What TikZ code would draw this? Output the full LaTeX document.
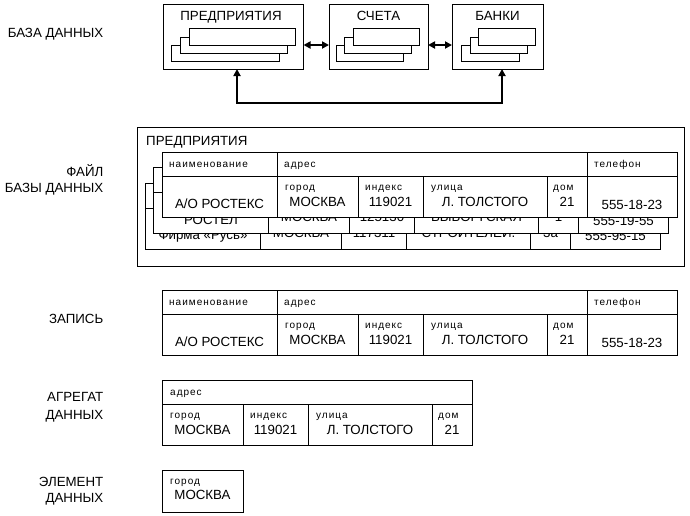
\documentclass[tikz,border=0pt]{standalone}
\usepackage{fontspec}
\setmainfont{Liberation Sans}
\newfontfamily\lblfont[LetterSpace=10]{Liberation Sans}
\usetikzlibrary{arrows.meta}
\newcommand{\bigf}{\fontsize{13.3}{16}\selectfont}
\newcommand{\smf}{\lblfont\fontsize{10}{12}\selectfont}
\tikzset{
  frame/.style={draw=black, line width=1pt},
  big/.style={font=\bigf, inner sep=0pt, anchor=base},
  lbl/.style={font=\smf, inner sep=0pt, anchor=base west},
  side/.style={font=\bigf, inner sep=0pt, anchor=base east},
  conn/.style={line width=2pt, {Triangle[length=7pt,width=7pt]}-{Triangle[length=7pt,width=7pt]}},
  topbox/.style={frame, inner sep=0pt, outer sep=0pt, minimum height=65pt, anchor=north west},
}
\newcommand{\recframe}{%
  \filldraw[frame, fill=white] (0,0) rectangle (515,65.5);
  \draw[frame] (0,24.5) -- (515,24.5) (115,0) -- (115,65.5)
    (196,24.5) -- (196,65.5) (261,24.5) -- (261,65.5)
    (385,24.5) -- (385,65.5) (425,0) -- (425,65.5);
}
\newcommand{\recvals}[7]{%
  \node[big] (#1n) at (57.5,56.25) {#2};
  \node[big] (#1c) at (155.5,54) {#3};
  \node[big] (#1i) at (228.5,54) {#4};
  \node[big] (#1s) at (323,54) {#5};
  \node[big] (#1h) at (405,54) {#6};
  \node[big] (#1p) at (470,57.25) {#7};
}
\newcommand{\reclabels}[1]{%
  \node[lbl] (#1la) at (7,15) {наименование};
  \node[lbl] (#1lb) at (122,15) {адрес};
  \node[lbl] (#1lc) at (432,15) {телефон};
  \node[lbl] (#1ld) at (123,38.5) {город};
  \node[lbl] (#1le) at (203,38.5) {индекс};
  \node[lbl] (#1lf) at (269,38.5) {улица};
  \node[lbl] (#1lg) at (391,38.5) {дом};
}
\begin{document}
\begin{tikzpicture}[x=1pt,y=-1pt]
\fill[white] (0,0) rectangle (690,515);
\useasboundingbox (0,0) rectangle (690,515);

% ---------- left labels ----------
\node[side] (l0) at (103.5,37.5) {БАЗА ДАННЫХ};
\node[side] (l1a) at (103.5,176.5) {ФАЙЛ};
\node[side] (l1b) at (103.5,192.7) {БАЗЫ ДАННЫХ};
\node[side] (l2) at (103.5,323.7) {ЗАПИСЬ};
\node[side] (l3a) at (103.5,401.7) {АГРЕГАТ};
\node[side] (l3b) at (103.5,419.7) {ДАННЫХ};
\node[side] (l4a) at (103.5,486.7) {ЭЛЕМЕНТ};
\node[side] (l4b) at (103.5,502.7) {ДАННЫХ};

% ---------- database (top) ----------
\node[topbox, minimum width=140.5pt] (pr) at (163,4) {};
\node[topbox, minimum width=99pt] (sc) at (329,4) {};
\node[topbox, minimum width=91pt] (ba) at (452,4) {};
\node[big] (prt) at (231,20.75) {ПРЕДПРИЯТИЯ};
\node[big] (sct) at (378.5,20.75) {СЧЕТА};
\node[big] (bat) at (497.5,20.75) {БАНКИ};

\filldraw[frame, fill=white] (171,45) rectangle (279,61);
\filldraw[frame, fill=white] (180,37) rectangle (287.5,53);
\filldraw[frame, fill=white] (189,28) rectangle (295.5,45);

\filldraw[frame, fill=white] (336,45) rectangle (403,61);
\filldraw[frame, fill=white] (344,37) rectangle (411,53);
\filldraw[frame, fill=white] (353,28) rectangle (419,45);

\filldraw[frame, fill=white] (461,45) rectangle (519,61);
\filldraw[frame, fill=white] (470,37) rectangle (527,53);
\filldraw[frame, fill=white] (478,28) rectangle (535,45);

\draw[conn] ([yshift=-8.5pt]pr.east) -- ([yshift=-8.5pt]sc.west);
\draw[conn] ([yshift=-8.5pt]sc.east) -- ([yshift=-8.5pt]ba.west);
\coordinate (c1) at (237,103);
\coordinate (c2) at (502,103);
\draw[conn] (pr.south -| c1) -- (c1) -- (c2) -- (ba.south -| c2);

% ---------- database file ----------
\draw[frame] (137,127) rectangle (684,266);
\node[font=\bigf, inner sep=0pt, anchor=base west] (ft) at (146,145) {ПРЕДПРИЯТИЯ};

\begin{scope}[shift={(145.5,183.5)}]
  \recframe
  \recvals{rc}{Фирма «Русь»}{МОСКВА}{117311}{СТРОИТЕЛЕЙ.}{3а}{555-95-15}
\end{scope}
\begin{scope}[shift={(153.5,167.75)}]
  \recframe
  \recvals{rb}{РОСТЕЛ}{МОСКВА}{125130}{ВЫБОРГСКАЯ}{1}{555-19-55}
\end{scope}
\begin{scope}[shift={(162,152)}]
  \recframe
  \recvals{ra}{А/О РОСТЕКС}{МОСКВА}{119021}{Л. ТОЛСТОГО}{21}{555-18-23}
  \reclabels{ra}
\end{scope}

% ---------- record ----------
\begin{scope}[shift={(162,290)}]
  \recframe
  \recvals{rz}{А/О РОСТЕКС}{МОСКВА}{119021}{Л. ТОЛСТОГО}{21}{555-18-23}
  \reclabels{rz}
\end{scope}

% ---------- data aggregate ----------
\begin{scope}[shift={(162,380)}]
  \filldraw[frame, fill=white] (0,0) rectangle (310,65.5);
  \draw[frame] (0,24.5) -- (310,24.5) (81,24.5) -- (81,65.5)
    (146,24.5) -- (146,65.5) (270,24.5) -- (270,65.5);
  \node[lbl] (aga) at (8,15) {адрес};
  \node[lbl] (agb) at (8,38.5) {город};
  \node[lbl] (agc) at (88,38.5) {индекс};
  \node[lbl] (agd) at (154,38.5) {улица};
  \node[lbl] (age) at (276,38.5) {дом};
  \node[big] (agf) at (40.5,54) {МОСКВА};
  \node[big] (agg) at (113.5,54) {119021};
  \node[big] (agh) at (208,54) {Л. ТОЛСТОГО};
  \node[big] (agi) at (290,54) {21};
\end{scope}

% ---------- data element ----------
\begin{scope}[shift={(162,470.5)}]
  \filldraw[frame, fill=white] (0,0) rectangle (81,41.5);
  \node[lbl] (ela) at (8,14) {город};
  \node[big] (elb) at (40.5,28.5) {МОСКВА};
\end{scope}
\end{tikzpicture}
\end{document}
